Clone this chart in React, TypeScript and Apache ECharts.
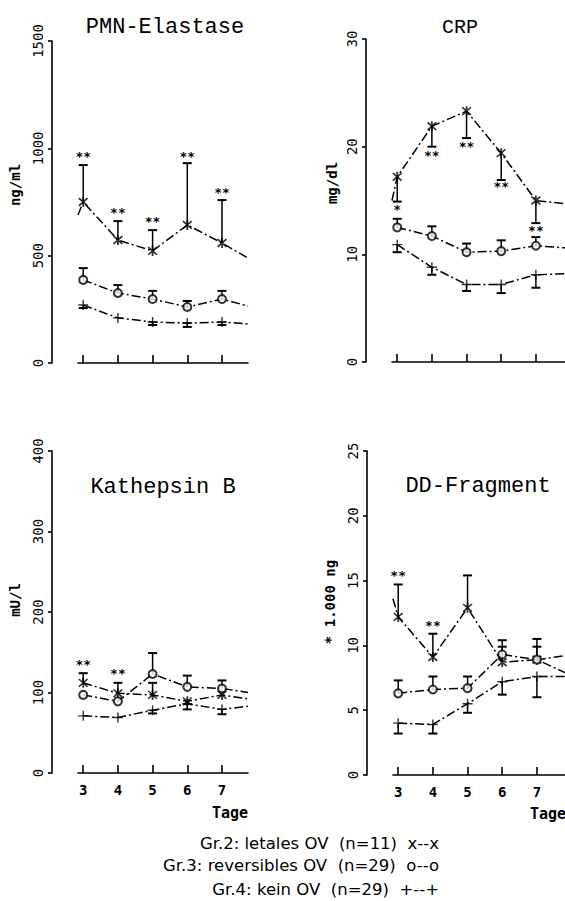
import React, { useEffect, useRef } from "react";
import * as echarts from "echarts";

// ---------- data ----------
const days = [3, 4, 5, 6, 7];
const xStart = 2.85;

// PMN-Elastase (ng/ml)
const pmnG2 = [750, 573, 522, 643, 559];
const pmnG2Err = [922, 661, 619, 931, 759];
const pmnG2Edge = [689, 489];
const pmnG3 = [387, 326, 298, 261, 298];
const pmnG3Err = [442, 363, 336, 289, 336];
const pmnG3Edge = [null, 265];
const pmnG4 = [270, 210, 191, 186, 191];
const pmnG4Err = [256, null, 177, 168, 177];
const pmnG4Edge = [null, 182];
const pmnStars: [number, number, string][] = [[3, 964, "**"], [4, 699, "**"], [5, 657, "**"], [6, 964, "**"], [7, 792, "**"]];

// CRP (mg/dl)
const crpG2 = [17.2, 21.9, 23.3, 19.4, 15.0];
const crpG2Err = [14.9, 20.0, 20.8, 16.9, 12.9];
const crpG2Edge = [15.0, 14.7];
const crpG3 = [12.5, 11.7, 10.2, 10.3, 10.8];
const crpG3Err = [13.3, 12.6, 11.0, 11.3, 11.6];
const crpG3Edge = [null, 10.6];
const crpG4 = [10.9, 8.8, 7.2, 7.2, 8.1];
const crpG4Err = [10.2, 8.1, 6.6, 6.4, 6.9];
const crpG4Edge = [null, 8.2];
const crpStars: [number, number, string][] = [[3, 14.2, "*"], [4, 19.2, "**"], [5, 20.0, "**"], [6, 16.3, "**"], [7, 12.2, "**"]];

// Kathepsin B (mU/l)
const katG2 = [112, 99, 97, 89, 97];
const katG2Err = [124, 112, 112, 79, null];
const katG2Edge = [null, 92];
const katG3 = [97, 89, 123, 107, 105];
const katG3Err = [null, null, 149, 121, 115];
const katG3Edge = [null, 100];
const katG4 = [71, 69, 78, 86, 79];
const katG4Err = [null, null, 74, null, 73];
const katG4Edge = [null, 83];
const katStars: [number, number, string][] = [[3, 135, "**"], [4, 123, "**"]];

// DD-Fragment (* 1.000 ng)
const ddG2 = [12.2, 9.1, 12.9, 8.7, 8.9];
const ddG2Err = [14.7, 10.9, 15.4, 10.4, 10.5];
const ddG2Edge = [13.6, 7.9];
const ddG3 = [6.3, 6.6, 6.7, 9.3, 8.9];
const ddG3Err = [7.3, 7.6, 7.6, 9.9, 9.9];
const ddG3Edge = [null, 9.2];
const ddG4 = [4.0, 3.9, 5.5, 7.2, 7.6];
const ddG4Err = [3.2, 3.2, 4.8, 6.2, 6.0];
const ddG4Edge = [null, 7.6];
const ddStars: [number, number, string][] = [[3, 15.4, "**"], [4, 11.5, "**"]];

const legendLines = [
  "Gr.2: letales OV  (n=11)  x--x",
  "Gr.3: reversibles OV  (n=29)  o--o",
  "Gr.4: kein OV  (n=29)  +--+",
];

// ---------- layout ----------
const panels = [
  {
    title: "PMN-Elastase", unit: "ng/ml", yMax: 1500, yInt: 500, xMax: 7.75, showX: false,
    grid: { left: 78, top: 41, width: 170, height: 322 }, titlePos: [165, 27], unitPos: [15, 185], titleSize: 22,
    g2: pmnG2, g2Err: pmnG2Err, g2Edge: pmnG2Edge, g3: pmnG3, g3Err: pmnG3Err, g3Edge: pmnG3Edge,
    g4: pmnG4, g4Err: pmnG4Err, g4Edge: pmnG4Edge, stars: pmnStars,
  },
  {
    title: "CRP", unit: "mg/dl", yMax: 30, yInt: 10, xMax: 7.84, showX: false,
    grid: { left: 392, top: 39, width: 173, height: 323 }, titlePos: [460, 27], unitPos: [332, 183], titleSize: 20,
    g2: crpG2, g2Err: crpG2Err, g2Edge: crpG2Edge, g3: crpG3, g3Err: crpG3Err, g3Edge: crpG3Edge,
    g4: crpG4, g4Err: crpG4Err, g4Edge: crpG4Edge, stars: crpStars,
  },
  {
    title: "Kathepsin B", unit: "mU/l", yMax: 400, yInt: 100, xMax: 7.75, showX: true,
    grid: { left: 78, top: 451, width: 170, height: 322 }, titlePos: [163, 487], unitPos: [15, 600], titleSize: 22,
    g2: katG2, g2Err: katG2Err, g2Edge: katG2Edge, g3: katG3, g3Err: katG3Err, g3Edge: katG3Edge,
    g4: katG4, g4Err: katG4Err, g4Edge: katG4Edge, stars: katStars,
  },
  {
    title: "DD-Fragment", unit: "* 1.000 ng", yMax: 25, yInt: 5, xMax: 7.81, showX: true,
    grid: { left: 393, top: 451, width: 172, height: 324 }, titlePos: [478, 486], unitPos: [330, 602], titleSize: 22,
    g2: ddG2, g2Err: ddG2Err, g2Edge: ddG2Edge, g3: ddG3, g3Err: ddG3Err, g3Edge: ddG3Edge,
    g4: ddG4, g4Err: ddG4Err, g4Edge: ddG4Edge, stars: ddStars,
  },
];

const MONO = "Liberation Mono";
const MONO_B = "DejaVu Sans Mono";
const SANS = "DejaVu Sans";
const STAR_SYM =
  "path://M4.2,0 H5.8 V10 H4.2 Z M0.6,1.7 L1.7,0.6 L9.4,8.3 L8.3,9.4 Z M8.3,0.6 L9.4,1.7 L1.7,9.4 L0.6,8.3 Z";
const PLUS_SYM = "path://M4.3,0 H5.7 V4.3 H10 V5.7 H5.7 V10 H4.3 V5.7 H0 V4.3 H4.3 Z";
const DASH = [9, 3, 2, 3];

function lineData(vals: number[], edge: (number | null)[], xMax: number) {
  const d: number[][] = [];
  if (edge[0] != null) d.push([xStart, edge[0] as number]);
  days.forEach((x, i) => d.push([x, vals[i]]));
  if (edge[1] != null) d.push([xMax, edge[1] as number]);
  return d;
}

function errData(vals: number[], errs: (number | null)[]) {
  const d: number[][] = [];
  days.forEach((x, i) => {
    if (errs[i] != null) d.push([x, vals[i], errs[i] as number]);
  });
  return d;
}

function errRender(_params: any, api: any) {
  const x = api.value(0);
  const p0 = api.coord([x, api.value(1)]);
  const p1 = api.coord([x, api.value(2)]);
  return {
    type: "group",
    children: [
      { type: "line", shape: { x1: p0[0], y1: p0[1], x2: p1[0], y2: p1[1] }, style: { stroke: "#000", lineWidth: 1.5 } },
      { type: "line", shape: { x1: p1[0] - 4.5, y1: p1[1], x2: p1[0] + 4.5, y2: p1[1] }, style: { stroke: "#000", lineWidth: 2 } },
    ],
  };
}

function buildOption() {
  const grid: any[] = [];
  const xAxis: any[] = [];
  const yAxis: any[] = [];
  const series: any[] = [];
  const graphic: any[] = [];

  panels.forEach((p, i) => {
    grid.push({ ...p.grid, containLabel: false });
    xAxis.push({
      type: "value", gridIndex: i, min: xStart, max: p.xMax,
      axisLine: { show: true, onZero: false, lineStyle: { color: "#000", width: 1.6 } },
      axisTick: { show: true, inside: true, length: 8, customValues: days, lineStyle: { color: "#000", width: 1.6 } },
      axisLabel: { show: p.showX, customValues: days, margin: 10, color: "#000", fontFamily: MONO_B, fontSize: 14, fontWeight: "bold" },
      splitLine: { show: false },
    });
    yAxis.push({
      type: "value", gridIndex: i, min: 0, max: p.yMax, interval: p.yInt, offset: 26,
      axisLine: { show: true, onZero: false, lineStyle: { color: "#000", width: 1.6 } },
      axisTick: { show: true, length: 4, lineStyle: { color: "#000", width: 1.6 } },
      axisLabel: {
        rotate: 90, margin: 7, color: "#000", fontFamily: MONO_B, fontSize: 14,
        formatter: (v: number) => String(v),
      },
      splitLine: { show: false },
    });

    const groups = [
      { v: p.g2, e: p.g2Err, edge: p.g2Edge, sym: STAR_SYM, size: 10 },
      { v: p.g3, e: p.g3Err, edge: p.g3Edge, sym: "emptyCircle", size: 8 },
      { v: p.g4, e: p.g4Err, edge: p.g4Edge, sym: PLUS_SYM, size: 10 },
    ];
    groups.forEach((g) => {
      series.push({
        type: "line", xAxisIndex: i, yAxisIndex: i, data: lineData(g.v, g.edge, p.xMax),
        symbol: "none", lineStyle: { color: "#000", width: 1.5, type: DASH }, silent: true, z: 2,
      });
      series.push({
        type: "custom", xAxisIndex: i, yAxisIndex: i, data: errData(g.v, g.e),
        renderItem: errRender, encode: { x: 0, y: [1, 2] }, silent: true, z: 3,
      });
      series.push({
        type: "scatter", xAxisIndex: i, yAxisIndex: i, data: days.map((x, k) => [x, g.v[k]]),
        symbol: g.sym, symbolSize: g.size,
        itemStyle: g.sym === "emptyCircle" ? { color: "#000", borderColor: "#000", borderWidth: 1.6 } : { color: "#000" },
        silent: true, z: 4,
      });
    });
    const stars = p.stars;
    series.push({
      type: "custom", xAxisIndex: i, yAxisIndex: i, data: stars.map((s) => [s[0], s[1]]),
      renderItem: (params: any, api: any) => {
        const pt = api.coord([api.value(0), api.value(1)]);
        return {
          type: "text", x: pt[0], y: pt[1],
          style: { text: stars[params.dataIndex][2], fill: "#000", fontFamily: MONO_B, fontSize: 13, fontWeight: "bold", align: "center", verticalAlign: "middle" },
        };
      },
      silent: true, z: 5,
    });

    graphic.push({
      type: "text", x: p.titlePos[0], y: p.titlePos[1],
      style: { text: p.title, fill: "#000", fontFamily: MONO, fontSize: p.titleSize, align: "center", verticalAlign: "middle" },
    });
    graphic.push({
      type: "text", x: p.unitPos[0], y: p.unitPos[1], rotation: Math.PI / 2,
      style: { text: p.unit, fill: "#000", fontFamily: MONO_B, fontSize: 14, fontWeight: "bold", align: "center", verticalAlign: "middle" },
    });
  });

  graphic.push({ type: "text", x: 248, y: 813, style: { text: "Tage", fill: "#000", fontFamily: MONO_B, fontSize: 15, fontWeight: "bold", align: "right", verticalAlign: "middle" } });
  graphic.push({ type: "text", x: 566, y: 814, style: { text: "Tage", fill: "#000", fontFamily: MONO_B, fontSize: 15, fontWeight: "bold", align: "right", verticalAlign: "middle" } });
  const legendY = [843, 865, 889];
  legendLines.forEach((t, k) => {
    graphic.push({ type: "text", x: 439, y: legendY[k], style: { text: t, fill: "#000", fontFamily: SANS, fontSize: 16.5, align: "right", verticalAlign: "middle" } });
  });

  return { animation: false, backgroundColor: "#fff", grid, xAxis, yAxis, series, graphic };
}

export default function App() {
  const ref = useRef<HTMLDivElement>(null);
  useEffect(() => {
    if (!ref.current) return;
    const chart = echarts.init(ref.current, undefined, { renderer: "svg" });
    chart.setOption(buildOption() as any);
    return () => chart.dispose();
  }, []);
  return <div ref={ref} style={{ position: "absolute", left: 0, top: 0, width: 565, height: 901, background: "#fff" }} />;
}
